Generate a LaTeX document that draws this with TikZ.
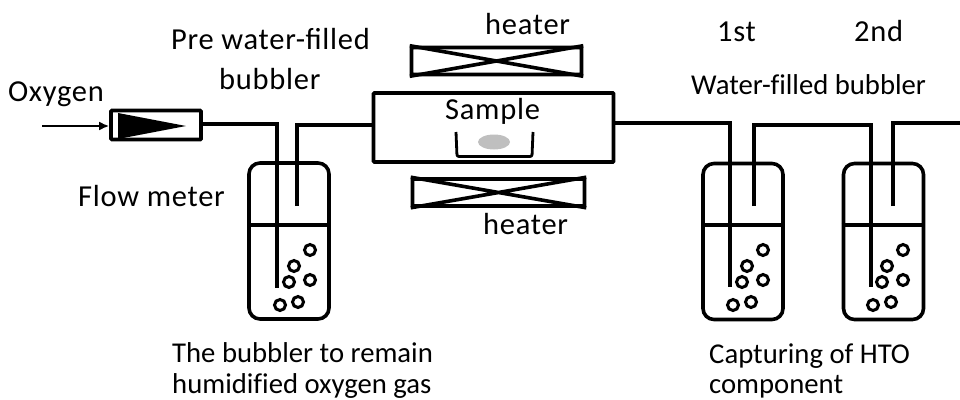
\documentclass[tikz,border=0pt]{standalone}
\usepackage{fontspec}
\usetikzlibrary{arrows.meta,shapes.geometric}
\setmainfont[Ligatures=NoCommon]{Carlito}
\newfontfamily\widefont[LetterSpace=2.4]{Carlito}
\tikzset{
  px/.style={x=1pt,y=-1pt},
  tube/.style={line width=3.6pt,line cap=butt,line join=miter},
  boxy/.style={draw,line width=3.6pt,inner sep=0pt,rounded corners=0.8pt},
  bottle/.style={draw,line width=3.6pt,inner sep=0pt,rounded corners=11pt,minimum width=80pt,minimum height=156pt},
  heaterbox/.style={boxy,minimum width=170pt,minimum height=27pt},
  bubble/.style={draw,line width=3pt,circle,inner sep=0pt,minimum size=11pt},
  lab/.style={font=\widefont\fontsize{30.5}{30.5}\selectfont,anchor=base west,inner sep=0pt},
  labsmall/.style={font=\fontsize{28.7}{28.7}\selectfont,anchor=base west,inner sep=0pt},
}
\newcommand{\bubbleset}[2]{%
  \node[bubble] (#1a) at (#2+310,250) {};
  \node[bubble] (#1b) at (#2+294,266) {};
  \node[bubble] (#1c) at (#2+289,282) {};
  \node[bubble] (#1d) at (#2+310,280) {};
  \node[bubble] (#1e) at (#2+280,305) {};
  \node[bubble] (#1f) at (#2+298,302) {};
}
\begin{document}
\begin{tikzpicture}[px]
\useasboundingbox (0,0) rectangle (960,399);
% flow meter
\node[boxy,minimum width=90pt,minimum height=29pt] (fm) at (156,125) {};
\coordinate (src) at (42,126);
\draw[line width=2.6pt,-{Latex[length=10pt,width=9pt]}] (src) -- (fm.west|-src);
\fill (118,113) -- (186,126) -- (118,139) -- cycle;
% bottles
\node[bottle] (b1) at (289,241) {};
\node[bottle] (b2) at (743,241.5) {};
\node[bottle] (b3) at (883.5,241.5) {};
\coordinate (wy) at (0,225);
\draw[tube] (b1.west|-wy) -- (b1.east|-wy);
\draw[tube] (b2.west|-wy) -- (b2.east|-wy);
\draw[tube] (b3.west|-wy) -- (b3.east|-wy);
% furnace and heaters
\node[boxy,minimum width=240pt,minimum height=69pt] (fur) at (493.5,127.5) {};
\node[heaterbox] (h1) at (496.5,61) {};
\node[heaterbox,minimum width=172pt] (h2) at (498.5,192.5) {};
\draw[tube] (h1.north west) -- (h1.south east) (h1.south west) -- (h1.north east);
\draw[tube] (h2.north west) -- (h2.south east) (h2.south west) -- (h2.north east);
% sample
\draw[line width=2.8pt,rounded corners=2pt] (456,132) -- (457,156.5) -- (532,156.5) -- (533,132);
\node[ellipse,fill=black!25,minimum width=32pt,minimum height=15pt,inner sep=0pt] (smp) at (494,142) {};
% tubes
\coordinate (i1t) at (277,124); \coordinate (i1b) at (277,288);
\coordinate (o1t) at (297,125); \coordinate (o1b) at (297,206);
\coordinate (i2t) at (730,123); \coordinate (i2b) at (730,287);
\coordinate (o2t) at (754,125); \coordinate (o2b) at (754,206);
\coordinate (i3t) at (871,125); \coordinate (i3b) at (871,287);
\coordinate (o3t) at (893,123); \coordinate (o3b) at (893,206);
\coordinate (out) at (960,123);
\draw[tube] (fm.east|-i1t) -- (i1t) -- (i1b);
\draw[tube] (o1b) -- (o1t) -- (fur.west|-o1t);
\draw[tube] (fur.east|-i2t) -- (i2t) -- (i2b);
\draw[tube] (o2b) -- (o2t) -- (i3t) -- (i3b);
\draw[tube] (o3b) -- (o3t) -- (out);
% bubbles
\bubbleset{p}{0}
\bubbleset{q}{453}
\bubbleset{r}{593}
% labels
\node[lab] (t1) at (8,101) {Oxygen};
\node[lab] (t2) at (171,49) {Pre water-filled};
\node[lab] (t3) at (219,89) {bubbler};
\node[lab] (t4) at (485,34) {heater};
\node[lab] (t5) at (445,119) {Sample};
\node[lab] (t6) at (483,234) {heater};
\node[lab] (t7) at (717,41) {1st};
\node[lab] (t8) at (854,41) {2nd};
\node[labsmall] (t9) at (691,94) {Water-filled bubbler};
\node[lab] (t10) at (78,206) {Flow meter};
\node[labsmall] (t11) at (172,362) {The bubbler to remain};
\node[labsmall] (t12) at (172,393) {humidified oxygen gas};
\node[labsmall] (t13) at (709,363) {Capturing of HTO};
\node[labsmall] (t14) at (709,393) {component};
\end{tikzpicture}
\end{document}
